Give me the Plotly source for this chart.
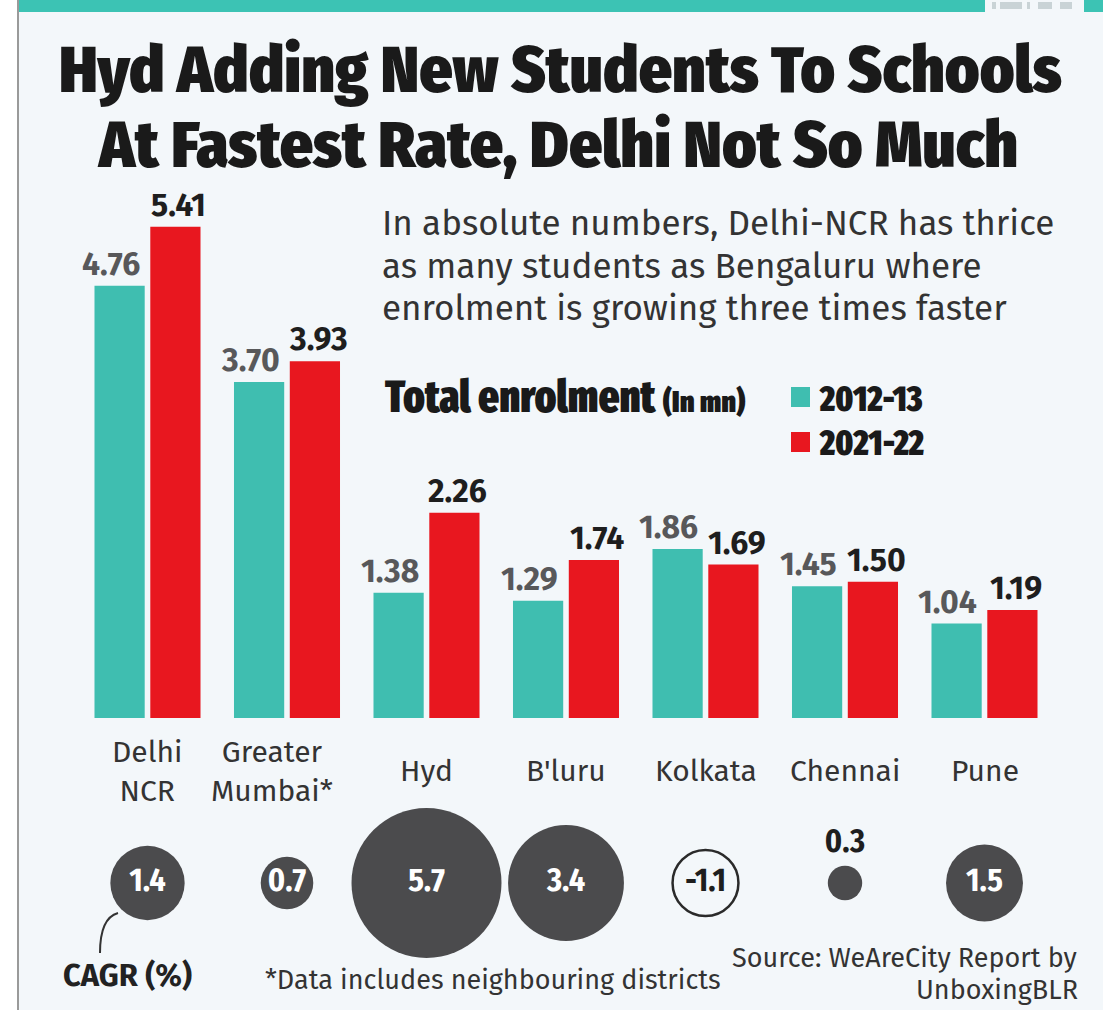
import plotly.graph_objects as go

W, H = 1103, 1010

# ---------------- data ----------------
cities = ["Delhi NCR", "Greater Mumbai*", "Hyd", "B'luru", "Kolkata", "Chennai", "Pune"]
city_labels = ["Delhi<br>NCR", "Greater<br>Mumbai*", "Hyd", "B'luru", "Kolkata", "Chennai", "Pune"]
enrol_2012 = [4.76, 3.70, 1.38, 1.29, 1.86, 1.45, 1.04]
enrol_2021 = [5.41, 3.93, 2.26, 1.74, 1.69, 1.50, 1.19]
cagr = [1.4, 0.7, 5.7, 3.4, -1.1, 0.3, 1.5]
series_names = ["2012-13", "2021-22"]

TEAL = "#3fbeb0"
RED = "#e8171f"
BUBBLE = "#4b4b4d"
BG = "#f3f7fa"
DARK = "#1e1e1e"
TXT = "#333333"

F_REG = "Fira Sans, Fira Sans Condensed"
F_COND = "Fira Sans Condensed"
F_HEAVY = "Fira Sans Extra Condensed, Fira Sans Condensed"


def px(x):
    return x / W


def py(y):
    return 1 - y / H


fig = go.Figure()

# bars
fig.add_trace(go.Bar(
    x=cities, y=enrol_2012, name=series_names[0], marker=dict(color=TEAL, line=dict(width=0)),
    showlegend=False, hoverinfo="x+y",
))
fig.add_trace(go.Bar(
    x=cities, y=enrol_2021, name=series_names[1], marker=dict(color=RED, line=dict(width=0)),
    showlegend=False, hoverinfo="x+y",
))

# CAGR bubbles
sizes = [abs(v) for v in cagr]
fills = [BG if v < 0 else BUBBLE for v in cagr]
line_w = [2.5 if v < 0 else 0 for v in cagr]
txt_col = [DARK if (v < 0 or abs(v) < 0.5) else "white" for v in cagr]
txt_pos = ["top center" if abs(v) < 0.5 else "middle center" for v in cagr]
fig.add_trace(go.Scatter(
    x=cities, y=[0] * len(cities), xaxis="x", yaxis="y2", mode="markers+text",
    text=[f"{v:.1f}" for v in cagr], textposition=txt_pos,
    textfont=dict(family=F_COND, size=32, color=txt_col, weight=700),
    marker=dict(size=sizes, sizemode="area", sizeref=2.0 * max(sizes) / (150 ** 2),
                color=fills, line=dict(color="#2a2a2a", width=line_w), opacity=1),
    cliponaxis=False, showlegend=False,
))

fig.update_layout(
    width=W, height=H, margin=dict(l=0, r=0, t=0, b=0),
    paper_bgcolor=BG, plot_bgcolor="rgba(0,0,0,0)",
    barmode="group", bargap=0.2, bargroupgap=0.1,
    xaxis=dict(domain=[px(77.75), px(1054.25)], range=[-0.5, 6.5], type="category",
               showticklabels=False, showgrid=False, zeroline=False, showline=False, ticks=""),
    yaxis=dict(domain=[py(718), py(209.5)], range=[0, 5.6], visible=False),
    yaxis2=dict(domain=[py(983), py(783)], range=[-1, 1], visible=False, anchor="x"),
)

shapes = []
# left white margin + grey rule
shapes.append(dict(type="rect", xref="paper", yref="paper", x0=0, x1=px(17), y0=0, y1=1,
                   fillcolor="white", line=dict(width=0), layer="below"))
shapes.append(dict(type="line", xref="paper", yref="paper", x0=px(18), x1=px(18), y0=0, y1=1,
                   line=dict(color="#9a9a9a", width=2)))
# top teal band
shapes.append(dict(type="rect", xref="paper", yref="paper", x0=px(19), x1=px(985), y0=py(12), y1=1,
                   fillcolor="#3cc3b4", line=dict(width=0)))
shapes.append(dict(type="rect", xref="paper", yref="paper", x0=px(1084), x1=1, y0=py(12), y1=1,
                   fillcolor="#3cc3b4", line=dict(width=0)))
# small grey marks in the top-right corner
for x0, x1 in [(992, 996), (1000, 1022), (1027, 1030), (1038, 1052), (1060, 1072)]:
    shapes.append(dict(type="rect", xref="paper", yref="paper", x0=px(x0), x1=px(x1), y0=py(9), y1=py(2),
                       fillcolor="#c9d3d6", line=dict(width=0)))
# legend squares
shapes.append(dict(type="rect", xref="paper", yref="paper", x0=px(791), x1=px(810), y0=py(407), y1=py(387),
                   fillcolor=TEAL, line=dict(width=0)))
shapes.append(dict(type="rect", xref="paper", yref="paper", x0=px(791), x1=px(810), y0=py(452), y1=py(432),
                   fillcolor=RED, line=dict(width=0)))
# CAGR connector curve
shapes.append(dict(type="path", xref="paper", yref="paper",
                   path=f"M {px(118)},{py(913)} Q {px(100)},{py(918)} {px(100)},{py(953)}",
                   line=dict(color="#333", width=2)))
fig.update_layout(shapes=shapes)

ann = []


def text(x, y, s, size, family=F_REG, color=TXT, xanchor="left", weight=400):
    ann.append(dict(x=px(x), y=py(y), xref="paper", yref="paper", text=s, showarrow=False,
                    xanchor=xanchor, yanchor="middle", font=dict(family=family, size=size, color=color, weight=weight)))


# bar value labels (placed at the bar tops through the data axes)
for i, c in enumerate(cities):
    ann.append(dict(x=c, y=enrol_2012[i], xref="x", yref="y", xshift=-37, yshift=1,
                    text=f"{enrol_2012[i]:.2f}", showarrow=False, xanchor="center", yanchor="bottom",
                    font=dict(family=F_REG, size=32, color="#58585a", weight=700)))
    ann.append(dict(x=c, y=enrol_2021[i], xref="x", yref="y", xshift=31, yshift=1,
                    text=f"{enrol_2021[i]:.2f}", showarrow=False, xanchor="center", yanchor="bottom",
                    font=dict(family=F_REG, size=32, color=DARK, weight=700)))

# title
text(560, 70, "Hyd Adding New Students To Schools", 65, F_COND, "#1a1a1a", "center", 900)
text(557, 145, "At Fastest Rate, Delhi Not So Much", 65, F_COND, "#1a1a1a", "center", 900)
# subtitle
sub = ["In absolute numbers, Delhi-NCR has thrice",
       "as many students as Bengaluru where",
       "enrolment is growing three times faster"]
for i, s in enumerate(sub):
    text(380, 223 + i * 42.5, s, 35, F_REG, "#333")
# legend block
text(383, 397, "Total enrolment <span style='font-size:31px'>(In mn)</span>", 44, F_HEAVY, "#1a1a1a", "left", 900)
text(817, 399, series_names[0], 35, F_HEAVY, "#1a1a1a", "left", 900)
text(817, 443, series_names[1], 35, F_HEAVY, "#1a1a1a", "left", 900)

# category labels under bars (data x positions)
for i, lab in enumerate(city_labels):
    ann.append(dict(x=cities[i], y=0, xref="x", yref="y", yshift=-53, xshift=-15 if "Mumbai" in lab else 0,
                    text=lab, showarrow=False, xanchor="center", yanchor="middle",
                    font=dict(family=F_REG, size=30, color=TXT)))

# footer
text(61, 975, "CAGR (%)", 31, F_REG, "#222", "left", 700)
text(263, 980, "*Data includes neighbouring districts", 27, F_REG, "#333")
text(1080, 958, "Source: WeAreCity Report by", 27, F_REG, "#333", "right")
text(1080, 990, "UnboxingBLR", 27, F_REG, "#333", "right")

fig.update_layout(annotations=ann)
fig.write_html("out.html", config={"displayModeBar": False},
               post_script="document.body.style.margin='0';document.body.style.overflow='hidden';")
